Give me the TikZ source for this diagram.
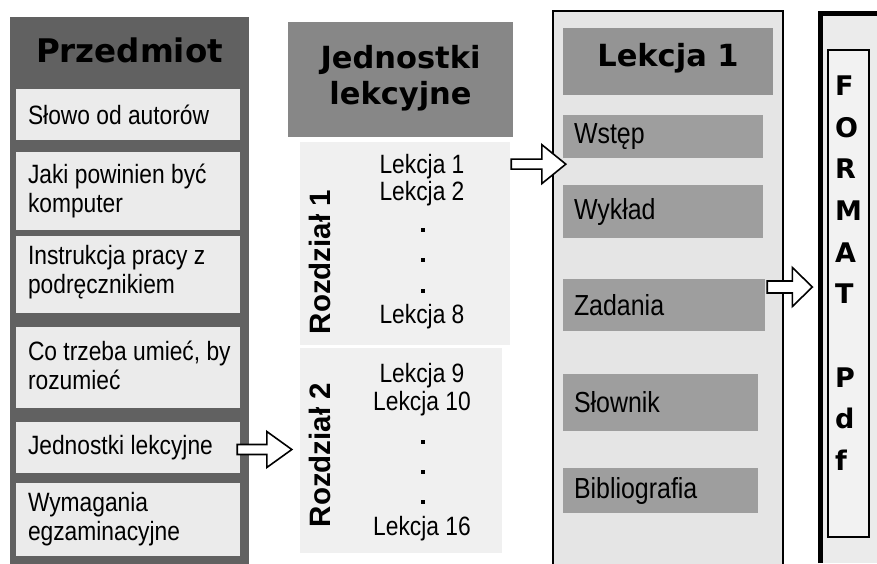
\documentclass[tikz,border=0pt]{standalone}
\usepackage{fontspec}
\setmainfont{Liberation Sans}[FakeStretch=0.86]
\newfontfamily\hdrfont{DejaVu Sans}
\newfontfamily\rzfont{Liberation Sans}
\usetikzlibrary{calc}
\tikzset{
  darkA/.style={fill=black!62, draw=none},
  itembox/.style={rectangle, fill=black!8, draw=none, inner sep=0pt, minimum width=224pt},
  itemtxt/.style={anchor=west, inner sep=0pt, align=left,
    font=\fontsize{26.5}{29}\selectfont},
  hdr/.style={font=\hdrfont\bfseries\fontsize{30.5}{36}\selectfont, align=center, inner sep=0pt},
  chap/.style={rectangle, fill=black!6, draw=none, inner sep=0pt},
  lek/.style={anchor=base, inner sep=0pt, font=\fontsize{26.5}{29}\selectfont},
  rz/.style={rotate=90, inner sep=0pt, font=\rzfont\bfseries\fontsize{29.5}{30}\selectfont},
  itemC/.style={rectangle, fill=black!38, draw=none, inner xsep=11pt, inner ysep=0pt,
    align=left, font=\fontsize{29}{31}\selectfont},
  letter/.style={anchor=base west, inner sep=0pt, font=\hdrfont\bfseries\fontsize{27}{30}\selectfont},
  barrowst/.style={draw=black, line width=1.6pt, fill=white, line join=miter},
}
\newcommand\blockarrow[5]{%
  \draw[barrowst] let \p1=#1, \p2=#2 in
    (\x1,\y1+#3) -- (\x2-#4,\y1+#3) -- (\x2-#4,\y1+#5) -- (\x2,\y1)
    -- (\x2-#4,\y1-#5) -- (\x2-#4,\y1-#3) -- (\x1,\y1-#3) -- cycle;}
\begin{document}
\begin{tikzpicture}[x=1pt,y=-1pt]
\useasboundingbox[fill=white] (0,0) rectangle (877,563);

% ---------- column 1 ----------
\node[darkA, minimum width=239pt, minimum height=547pt, inner sep=0pt] (c1) at (129.5,290.5) {};
\node[hdr, font=\hdrfont\bfseries\fontsize{32.5}{36}\selectfont] (p) at (129.5,50) {Przedmiot};
\node[itembox, minimum height=51pt] (s1) at (128,114.5) {};
\node[itembox, minimum height=78pt] (s2) at (128,191) {};
\node[itembox, minimum height=77pt] (s3) at (128,274.5) {};
\node[itembox, minimum height=81pt] (s4) at (128,367.5) {};
\node[itembox, minimum height=51pt] (s5) at (128,447.5) {};
\node[itembox, minimum height=73pt] (s6) at (128,519.5) {};
\node[itemtxt] (t1) at ($(s1.west)+(12,0)$) {Słowo od autorów};
\node[itemtxt] (t2) at ($(s2.west)+(12,0)$) {Jaki powinien być\\komputer};
\node[itemtxt] (t3) at ($(s3.west)+(12,-2)$) {Instrukcja pracy z\\podręcznikiem};
\node[itemtxt] (t4) at ($(s4.west)+(12,-2)$) {Co trzeba umieć, by\\rozumieć};
\node[itemtxt] (t5) at ($(s5.west)+(12,0)$) {Jednostki lekcyjne};
\node[itemtxt] (t6) at ($(s6.west)+(12,0)$) {Wymagania\\egzaminacyjne};

% ---------- column 2 ----------
\node[rectangle, fill=black!47, minimum width=225pt, minimum height=115pt, inner sep=0pt] (h2) at (400.5,79.5) {};
\node[hdr] (h2t) at (400.5,78) {Jednostki\\lekcyjne};
\node[chap, minimum width=210pt, minimum height=203pt] (r1) at (405,243.5) {};
\node[chap, minimum width=202pt, minimum height=205pt] (r2) at (401,450.5) {};
\node[rz] (rz1) at (319.5,262) {Rozdział 1};
\node[rz] (rz2) at (319.5,455) {Rozdział 2};
\node[lek] (l1) at (422,173) {Lekcja 1};
\node[lek] (l2) at (422,200) {Lekcja 2};
\node[lek] (l8) at (422,323) {Lekcja 8};
\node[lek] (l9) at (422,382) {Lekcja 9};
\node[lek] (l10) at (422,410) {Lekcja 10};
\node[lek] (l16) at (422,535) {Lekcja 16};
\foreach \yy in {230,260,291,442,472,502}
  \fill (421,\yy-2) rectangle (425,\yy+2);

% ---------- column 3 ----------
\node[rectangle, fill=black!10, draw=black, line width=1.5pt, minimum width=230pt,
      minimum height=560pt, inner sep=0pt] (c3) at (668,291) {};
\node[rectangle, fill=black!42, minimum width=210pt, minimum height=67pt, inner sep=0pt] (h3) at (668,61.5) {};
\node[hdr] (h3t) at (668,58) {Lekcja 1};
\node[itemC, minimum width=200pt, minimum height=43pt, text width=178pt] (w1) at (663,136.5) {Wstęp};
\node[itemC, minimum width=200pt, minimum height=53pt, text width=178pt] (w2) at (663,211.5) {Wykład};
\node[itemC, minimum width=202pt, minimum height=52pt, text width=180pt] (w3) at (664,305) {Zadania};
\node[itemC, minimum width=195pt, minimum height=57pt, text width=173pt] (w4) at (660.5,402.5) {Słownik};
\node[itemC, minimum width=195pt, minimum height=45pt, text width=173pt] (w5) at (660.5,490.5) {Bibliografia};

% ---------- column 4 ----------
\fill[black!8] (818,11) rectangle (877,563);
\draw[line width=5pt] (820.5,563) -- (820.5,13.5) -- (877,13.5);
\node[rectangle, fill=black!5, draw=black, line width=1.3pt, minimum width=41pt,
      minimum height=487pt, inner sep=0pt] (pdfbox) at (848.5,293.5) {};
\node[letter] (f1) at (835,95) {F};
\node[letter] (f2) at (835,137) {O};
\node[letter] (f3) at (835,178) {R};
\node[letter] (f4) at (835,220) {M};
\node[letter] (f5) at (835,262) {A};
\node[letter] (f6) at (835,303) {T};
\node[letter] (f7) at (835,387) {P};
\node[letter] (f8) at (835,428) {d};
\node[letter] (f9) at (835,470) {f};

% ---------- arrows ----------
\blockarrow{($(s5.east)+(-3,2)$)}{($(r2.west)+(-8,0)$)}{5pt}{25pt}{18pt}
\blockarrow{($(r1.east |- l1)+(1,-2)$)}{($(w1.west)+(3,0)$)}{5pt}{24pt}{19.5pt}
\blockarrow{($(w3.east)+(2,-18)$)}{($(pdfbox.west)+(-15,0)$)}{6pt}{20pt}{19.5pt}
\end{tikzpicture}
\end{document}
